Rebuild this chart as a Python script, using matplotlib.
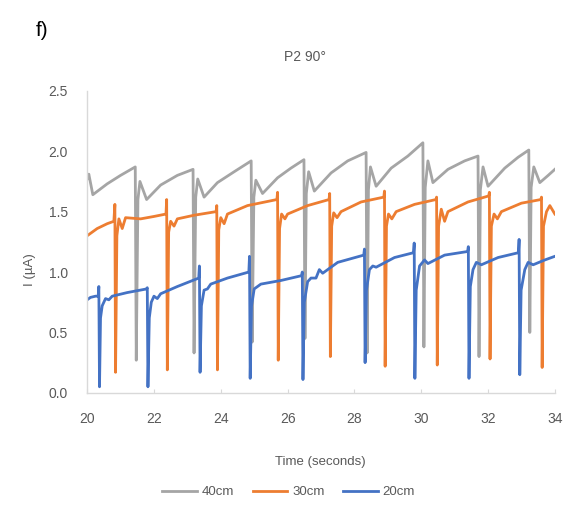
import matplotlib
matplotlib.use("Agg")
import matplotlib.pyplot as plt

# 40cm (cinza)
t_40 = [20.00, 20.05, 20.17, 20.60, 21.00, 21.44, 21.47, 21.52, 21.58, 21.78, 22.20, 22.70, 23.17,
        23.20, 23.25, 23.31, 23.50, 23.90, 24.40, 24.91, 24.94, 24.99, 25.05, 25.25, 25.70, 26.10, 26.49,
        26.52, 26.56, 26.63, 26.80, 27.30, 27.80, 28.35, 28.38, 28.42, 28.48, 28.65, 29.10, 29.60, 30.05,
        30.08, 30.12, 30.20, 30.35, 30.80, 31.30, 31.70, 31.73, 31.77, 31.85, 32.00, 32.50, 32.90, 33.22,
        33.25, 33.29, 33.37, 33.55, 33.80, 34.00]
i_40 = [1.77, 1.81, 1.64, 1.73, 1.80, 1.87, 0.27, 1.60, 1.75, 1.60, 1.72, 1.80, 1.85,
        0.33, 1.62, 1.77, 1.62, 1.74, 1.83, 1.92, 0.42, 1.62, 1.76, 1.65, 1.78, 1.86, 1.93,
        0.45, 1.65, 1.83, 1.67, 1.82, 1.92, 1.99, 0.33, 1.68, 1.87, 1.71, 1.86, 1.96, 2.07,
        0.38, 1.70, 1.92, 1.74, 1.85, 1.92, 1.96, 0.30, 1.68, 1.87, 1.71, 1.86, 1.95, 2.01,
        0.50, 1.70, 1.87, 1.74, 1.80, 1.85]

# 30cm (laranja)
t_30 = [20.00, 20.30, 20.60, 20.80, 20.83, 20.85, 20.89, 20.95, 21.05, 21.15, 21.60, 22.00, 22.36,
        22.38, 22.40, 22.44, 22.50, 22.60, 22.70, 23.20, 23.86, 23.88, 23.90, 23.94, 24.00, 24.10, 24.20,
        24.80, 25.68, 25.70, 25.72, 25.76, 25.82, 25.92, 26.00, 26.60, 27.24, 27.26, 27.28, 27.32, 27.38,
        27.48, 27.60, 28.20, 28.88, 28.90, 28.92, 28.96, 29.02, 29.12, 29.25, 29.80, 30.44, 30.46, 30.48,
        30.52, 30.60, 30.70, 30.80, 31.40, 32.02, 32.04, 32.06, 32.10, 32.18, 32.28, 32.40, 33.00, 33.58,
        33.60, 33.62, 33.66, 33.75, 33.85, 34.00]
i_30 = [1.30, 1.36, 1.40, 1.42, 1.56, 0.17, 1.30, 1.44, 1.36, 1.45, 1.44, 1.46, 1.48,
        1.60, 0.19, 1.33, 1.42, 1.38, 1.44, 1.47, 1.50, 1.55, 0.19, 1.35, 1.45, 1.40, 1.48,
        1.55, 1.60, 1.66, 0.27, 1.36, 1.48, 1.44, 1.48, 1.55, 1.60, 1.65, 0.30, 1.38, 1.49,
        1.45, 1.50, 1.58, 1.62, 1.67, 0.22, 1.38, 1.48, 1.44, 1.50, 1.56, 1.60, 1.62, 0.23,
        1.38, 1.52, 1.42, 1.50, 1.58, 1.63, 1.66, 0.28, 1.38, 1.48, 1.44, 1.50, 1.57, 1.60,
        1.62, 0.21, 1.38, 1.50, 1.55, 1.48]

# 20cm (azul)
t_20 = [20.00, 20.10, 20.25, 20.33, 20.35, 20.37, 20.40, 20.45, 20.55, 20.65, 20.75, 21.20, 21.78,
        21.80, 21.82, 21.86, 21.92, 22.00, 22.10, 22.20, 22.70, 23.34, 23.36, 23.38, 23.42, 23.50, 23.60,
        23.70, 24.20, 24.84, 24.86, 24.88, 24.92, 25.00, 25.10, 25.20, 25.80, 26.42, 26.44, 26.46, 26.50,
        26.60, 26.70, 26.85, 26.95, 27.05, 27.50, 28.28, 28.30, 28.32, 28.36, 28.45, 28.55, 28.65, 29.20,
        29.77, 29.79, 29.81, 29.85, 29.95, 30.10, 30.20, 30.70, 31.39, 31.41, 31.43, 31.47, 31.55, 31.65,
        31.80, 32.30, 32.91, 32.93, 32.95, 32.99, 33.10, 33.20, 33.35, 33.70, 34.00]
i_20 = [0.77, 0.79, 0.80, 0.80, 0.88, 0.05, 0.62, 0.72, 0.78, 0.77, 0.80, 0.83, 0.86,
        0.87, 0.05, 0.62, 0.75, 0.80, 0.78, 0.82, 0.88, 0.95, 1.05, 0.17, 0.72, 0.85, 0.86,
        0.90, 0.95, 1.00, 1.13, 0.12, 0.72, 0.86, 0.88, 0.90, 0.93, 0.97, 1.00, 0.11, 0.75,
        0.92, 0.95, 0.95, 1.02, 0.99, 1.08, 1.14, 1.19, 0.25, 0.85, 1.02, 1.05, 1.04, 1.12,
        1.16, 1.24, 0.12, 0.85, 1.05, 1.10, 1.07, 1.14, 1.17, 1.21, 0.12, 0.88, 1.02, 1.08,
        1.06, 1.12, 1.16, 1.27, 0.15, 0.85, 1.02, 1.08, 1.06, 1.10, 1.13]

series = [("40cm", t_40, i_40, "#A5A5A5"),
          ("30cm", t_30, i_30, "#ED7D31"),
          ("20cm", t_20, i_20, "#4472C4")]

cor_texto = "#595959"
plt.rcParams["font.family"] = ["Liberation Sans", "DejaVu Sans"]

fig = plt.figure(figsize=(5.81, 5.28), dpi=100)
ax = fig.add_axes([0.150, 0.256, 0.805, 0.572])

for nome, t, i, cor in series:
    ax.plot(t, i, color=cor, lw=2.0, label=nome, solid_joinstyle="round")

ax.set_xlim(20, 34)
ax.set_ylim(0, 2.5)
ax.set_xticks(range(20, 35, 2))
ax.set_yticks([0.0, 0.5, 1.0, 1.5, 2.0, 2.5])
ax.set_yticklabels([f"{v:.1f}" for v in [0.0, 0.5, 1.0, 1.5, 2.0, 2.5]])

for lado in ["top", "right"]:
    ax.spines[lado].set_visible(False)
for lado in ["left", "bottom"]:
    ax.spines[lado].set_color("#D9D9D9")
    ax.spines[lado].set_linewidth(1.0)

ax.tick_params(axis="x", direction="in", length=3, color="#D9D9D9", labelsize=10,
               labelcolor=cor_texto, pad=14)
ax.tick_params(axis="y", length=0, labelsize=10, labelcolor=cor_texto, pad=14)

fig.text(0.552, 0.125, "Time (seconds)", ha="center", va="center", fontsize=9.5, color=cor_texto)
fig.text(0.052, 0.489, "I (µA)", ha="center", va="center", rotation=90, fontsize=9.5, color=cor_texto)
fig.text(0.525, 0.892, "P2 90°", ha="center", va="center", fontsize=10, color=cor_texto)
fig.text(0.062, 0.943, "f)", ha="left", va="center", fontsize=15, color="black")

leg = fig.legend(loc="center", bbox_to_anchor=(0.497, 0.068), ncol=3, frameon=False,
                 fontsize=9.5, handlelength=2.6, columnspacing=1.4, handletextpad=0.4)
for texto in leg.get_texts():
    texto.set_color(cor_texto)

fig.savefig("out.png", dpi=100)
